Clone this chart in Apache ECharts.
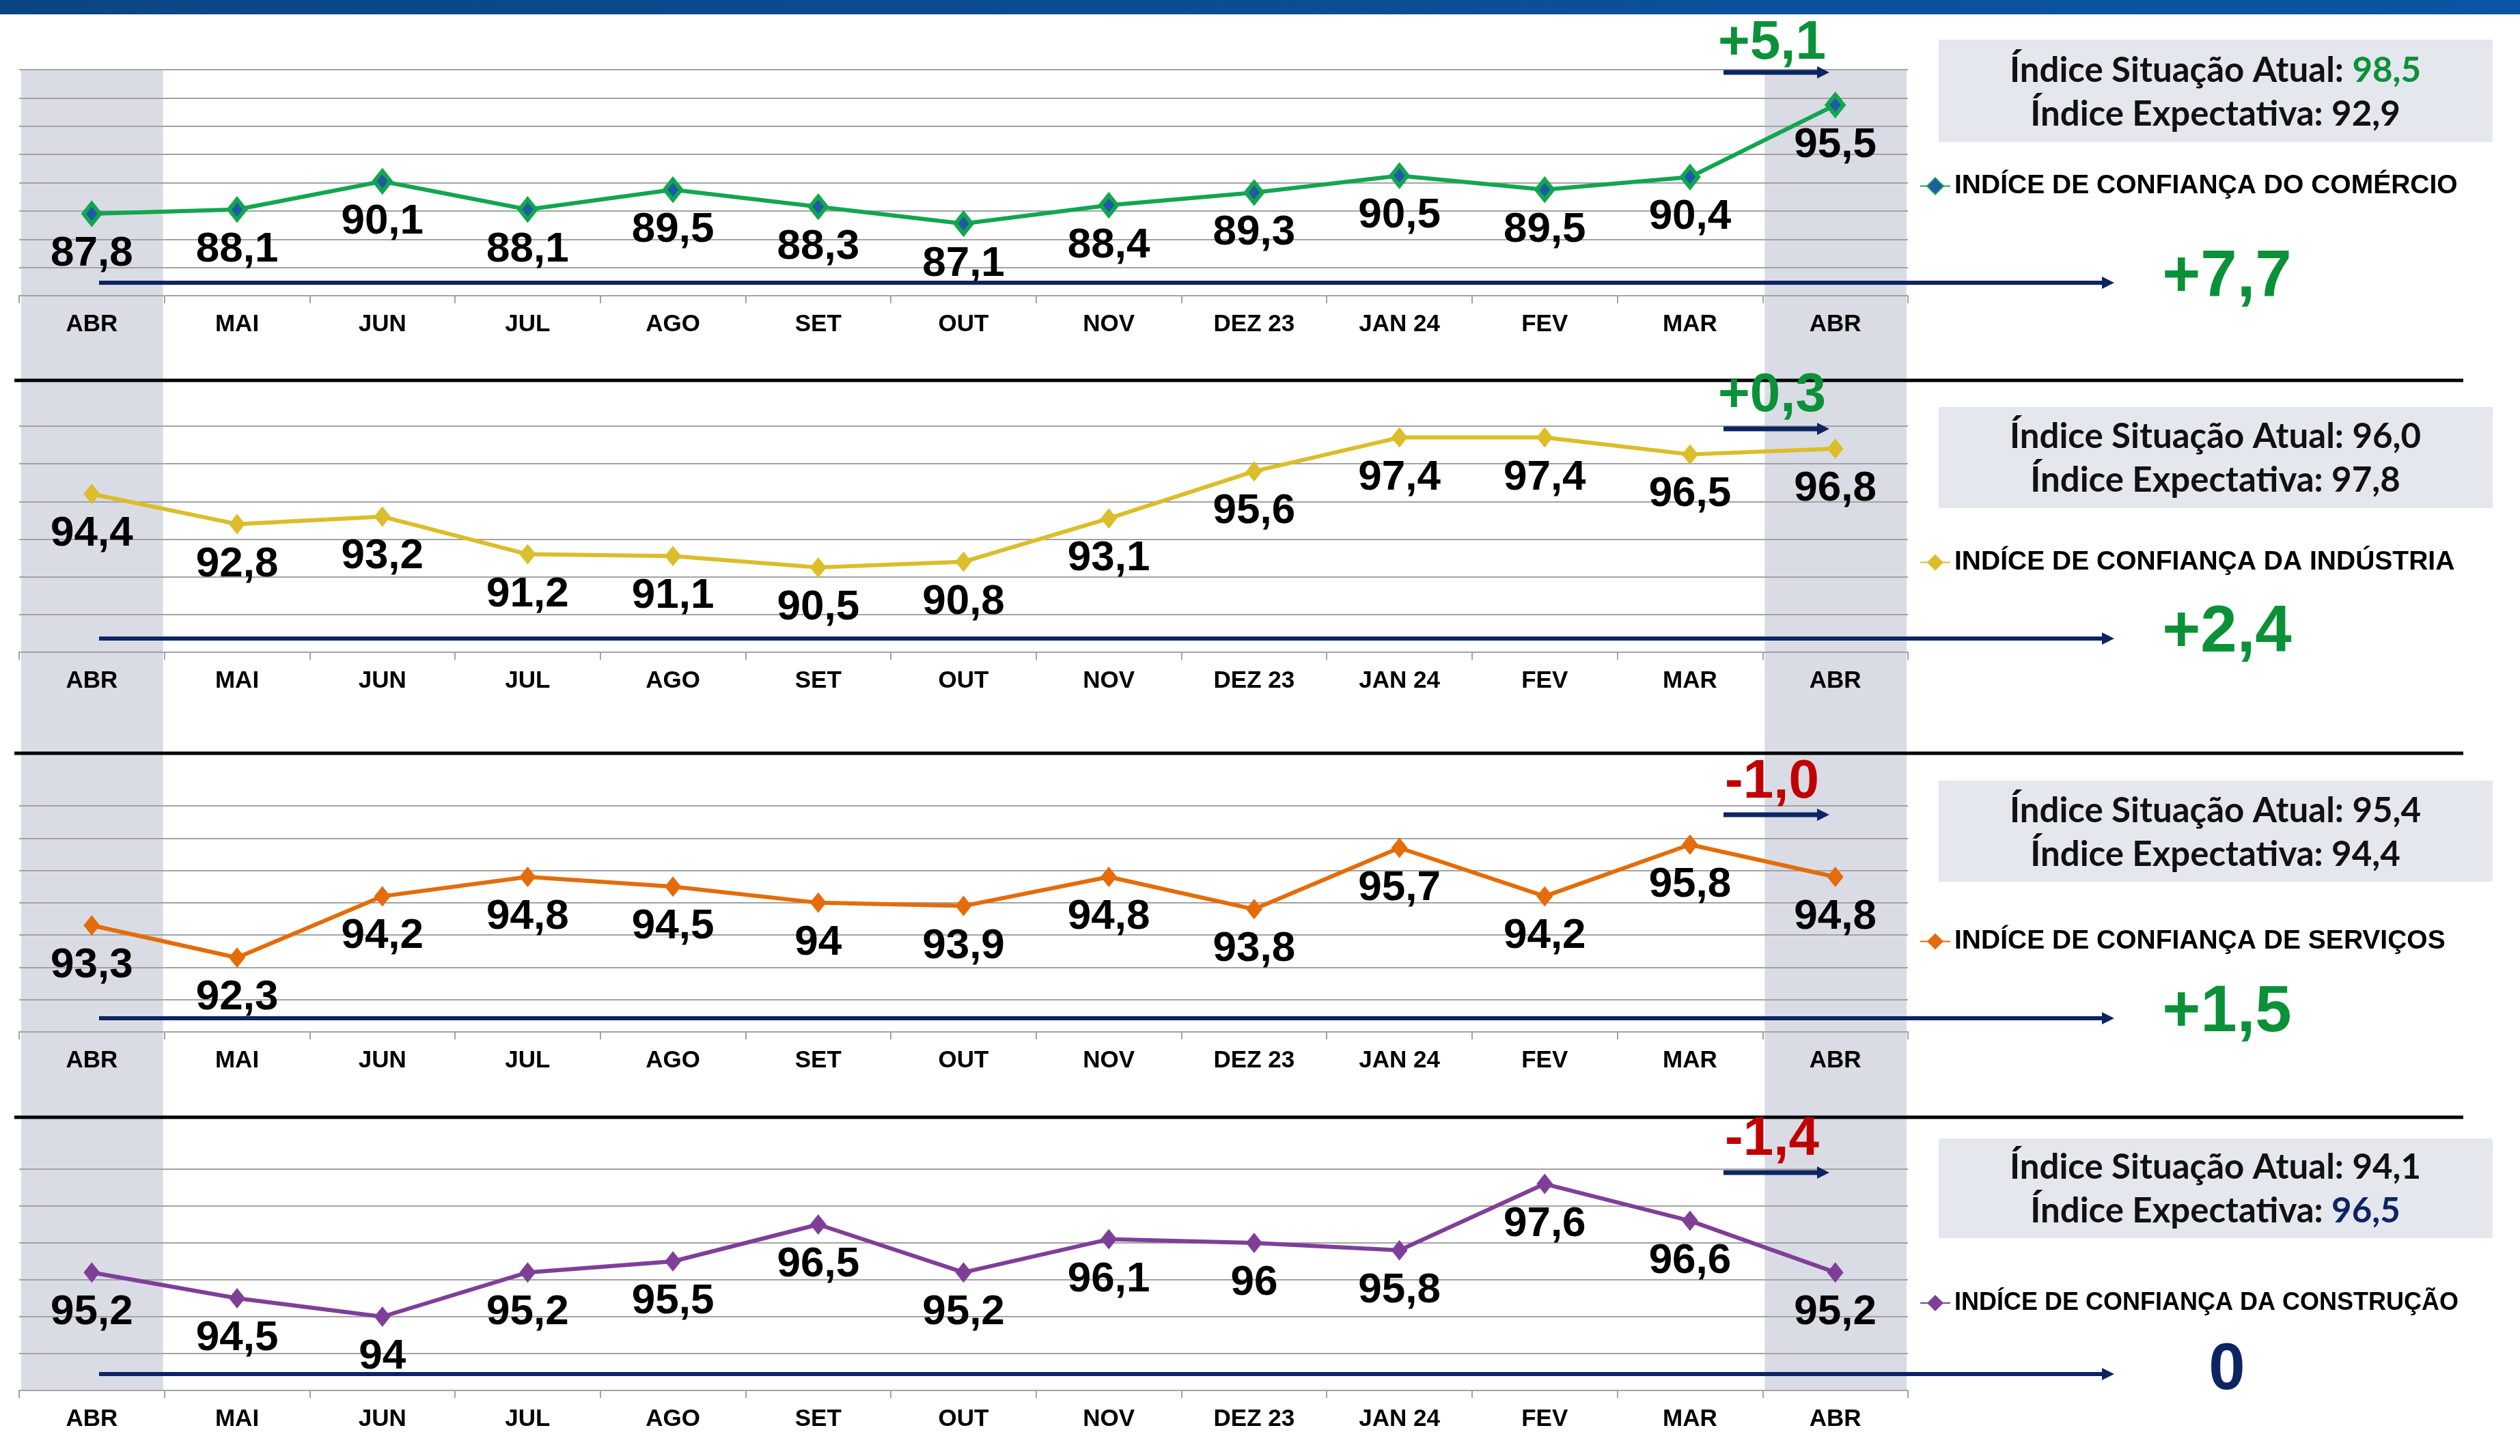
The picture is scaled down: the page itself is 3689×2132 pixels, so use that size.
<!DOCTYPE html>
<html><head><meta charset="utf-8">
<script src="https://cdn.jsdelivr.net/npm/echarts@6/dist/echarts.min.js"></script>
<style>html,body{margin:0;padding:0;background:#fff}#c{width:3689px;height:2132px}</style>
</head><body><div id="c"></div>
<script>
// ---------- DATA ----------
const months = ['ABR','MAI','JUN','JUL','AGO','SET','OUT','NOV','DEZ 23','JAN 24','FEV','MAR','ABR'];
const seriesNames = ['INDÍCE DE CONFIANÇA DO COMÉRCIO','INDÍCE DE CONFIANÇA DA INDÚSTRIA','INDÍCE DE CONFIANÇA DE SERVIÇOS','INDÍCE DE CONFIANÇA DA CONSTRUÇÃO'];
const comercio   = [87.8, 88.1, 90.1, 88.1, 89.5, 88.3, 87.1, 88.4, 89.3, 90.5, 89.5, 90.4, 95.5];
const industria  = [94.4, 92.8, 93.2, 91.2, 91.1, 90.5, 90.8, 93.1, 95.6, 97.4, 97.4, 96.5, 96.8];
const servicos   = [93.3, 92.3, 94.2, 94.8, 94.5, 94, 93.9, 94.8, 93.8, 95.7, 94.2, 95.8, 94.8];
const construcao = [95.2, 94.5, 94, 95.2, 95.5, 96.5, 95.2, 96.1, 96, 95.8, 97.6, 96.6, 95.2];
const yMin  = [82, 86, 90, 92];
const yMax  = [98, 98, 97, 98];
const yStep = [2, 2, 1, 1];
const monthChange = ['+5,1', '+0,3', '-1,0', '-1,4'];
const yearChange  = ['+7,7', '+2,4', '+1,5', '0'];
const situacaoAtual = ['98,5', '96,0', '95,4', '94,1'];
const expectativa   = ['92,9', '97,8', '94,4', '96,5'];

// ---------- LAYOUT / STYLE ----------
const allData = [comercio, industria, servicos, construcao];
const lineColors = ['#12a64f', '#dcbd2a', '#e46c0a', '#7f3f98'];
const gridTop = [102, 624, 1180, 1712];
const gridH   = [331, 331, 331, 324];
const gridLeft = 28, gridRight = 3689 - 2793;
const sepY = [557, 1103, 1636];
const longArrowY  = [414, 935, 1491, 2012];
const shortArrowY = [106, 628, 1193, 1717];
const monthTxtY = [64, 580, 1146, 1669];
const yearTxtY  = [408, 928, 1484, 2008];
const boxTop = [58, 596, 1143, 1667];
const boxH   = [150, 148, 148, 146];
const line1Y = [104, 640, 1188, 1710];
const line2Y = [168, 704, 1252, 1774];
const legendY = [273, 824, 1379, 1910];
const legendFont = [39, 39, 39, 36];
const GREEN = '#0b9138', RED = '#c00000', NAVY = '#0d2463';
const changeColor = s => s.startsWith('-') ? RED : (s === '0' ? NAVY : GREEN);
const LS = '"Liberation Sans", Arial, sans-serif';

const grids = [], xAxes = [], yAxes = [], series = [], legends = [];
for (let i = 0; i < 4; i++) {
  grids.push({left: gridLeft, right: gridRight, top: gridTop[i], height: gridH[i], containLabel: false});
  xAxes.push({
    type: 'category', gridIndex: i, data: months, boundaryGap: true,
    axisLine: {show: true, lineStyle: {color: '#a3a3a3', width: 2}},
    axisTick: {show: true, length: 11, lineStyle: {color: '#a3a3a3', width: 2}},
    axisLabel: {color: '#000', fontFamily: LS, fontWeight: 'bold', fontSize: 35, margin: 25, interval: 0},
    splitLine: {show: false}
  });
  yAxes.push({
    type: 'value', gridIndex: i, min: yMin[i], max: yMax[i], interval: yStep[i],
    axisLabel: {show: false}, axisLine: {show: false}, axisTick: {show: false},
    splitLine: {show: true, lineStyle: {color: '#a3a3a3', width: 2}}
  });
  const isGreen = i === 0;
  series.push({
    name: seriesNames[i], type: 'line', xAxisIndex: i, yAxisIndex: i,
    data: allData[i],
    symbol: 'diamond', symbolSize: [24, 30],
    lineStyle: {color: lineColors[i], width: 6},
    itemStyle: isGreen ? {color: '#1f5aa6', borderColor: lineColors[i], borderWidth: 6} : {color: lineColors[i]},
    label: {
      show: true, position: 'inside', offset: [0, 59],
      formatter: p => String(p.value).replace('.', ','),
      color: '#000', fontFamily: LS, fontWeight: 'bold', fontSize: 62
    },
    z: 5
  });
  legends.push({
    data: [seriesNames[i]], left: 2810, top: legendY[i] - 15 - 5, padding: 0,
    itemWidth: 44, itemHeight: 30, itemGap: 0, selectedMode: false,
    textStyle: {color: '#000', fontFamily: LS, fontWeight: 'bold', fontSize: legendFont[i], padding: [0, 0, 0, 1]}
  });
}

const chart = echarts.init(document.getElementById('c'), null, {renderer: 'canvas'});
chart.setOption({
  animation: false, backgroundColor: '#fff',
  grid: grids, xAxis: xAxes, yAxis: yAxes, series: series, legend: legends
});

// ---------- DECORATIONS ----------
const g = [];
// grey highlighted columns (first and last category), computed from axis scale
const c0 = chart.convertToPixel({xAxisIndex: 0}, 0);
const c1 = chart.convertToPixel({xAxisIndex: 0}, 1);
const cw = c1 - c0;
const cLast = chart.convertToPixel({xAxisIndex: 0}, months.length - 1);
const bandTop = gridTop[0], bandBot = gridTop[3] + gridH[3];
[c0, cLast].forEach(cx => g.push({
  type: 'rect', z: -10, silent: true,
  shape: {x: cx - cw / 2 + 3, y: bandTop, width: cw - 5, height: bandBot - bandTop},
  style: {fill: '#d9dce5'}
}));
// header bar
g.push({type: 'rect', shape: {x: 0, y: 0, width: 3689, height: 21},
  style: {fill: new echarts.graphic.LinearGradient(0, 0, 1, 0, [{offset: 0, color: '#0b4585'}, {offset: 1, color: '#0a56a4'}])}});
// separators
sepY.forEach(y => g.push({type: 'line', z: 20, shape: {x1: 21, y1: y, x2: 3606, y2: y}, style: {stroke: '#000', lineWidth: 5}}));

function arrow(x1, x2, y, w, head) {
  g.push({type: 'line', z: 20, shape: {x1: x1, y1: y, x2: x2 - head + 2, y2: y}, style: {stroke: NAVY, lineWidth: w}});
  g.push({type: 'polygon', z: 20, shape: {points: [[x2 - head, y - head / 2], [x2, y], [x2 - head, y + head / 2]]}, style: {fill: NAVY}});
}
for (let i = 0; i < 4; i++) {
  arrow(145, 3095, longArrowY[i], 6, 18);
  arrow(2523, 2678, shortArrowY[i], 7, 18);
  g.push({type: 'text', z: 30, style: {text: monthChange[i], x: 2594, y: monthTxtY[i], align: 'center', verticalAlign: 'middle',
    font: 'bold 80px ' + LS, fill: changeColor(monthChange[i])}});
  g.push({type: 'text', z: 30, style: {text: yearChange[i], x: 3260, y: yearTxtY[i], align: 'center', verticalAlign: 'middle',
    font: 'bold 96px ' + LS, fill: changeColor(yearChange[i])}});
  // info box
  g.push({type: 'rect', z: 1, shape: {x: 2838, y: boxTop[i], width: 811, height: boxH[i]}, style: {fill: '#e4e7ee'}});
  const atualColor = i === 0 ? GREEN : '#111';
  const expColor = i === 3 ? NAVY : '#111';
  g.push({type: 'text', z: 30, style: {
    text: '{a|Índice Situação Atual: }{b|' + situacaoAtual[i] + '}', x: 3243, y: line1Y[i], align: 'center', verticalAlign: 'middle',
    rich: {a: {font: 'bold 51px Lato', fill: '#111'}, b: {font: 'bold 51px Lato', fill: atualColor}}}});
  g.push({type: 'text', z: 30, style: {
    text: '{a|Índice Expectativa: }{b|' + expectativa[i] + '}', x: 3243, y: line2Y[i], align: 'center', verticalAlign: 'middle',
    rich: {a: {font: 'bold 51px Lato', fill: '#111'}, b: {font: 'bold 51px Lato', fill: expColor}}}});
}
chart.setOption({graphic: g});
</script></body></html>
